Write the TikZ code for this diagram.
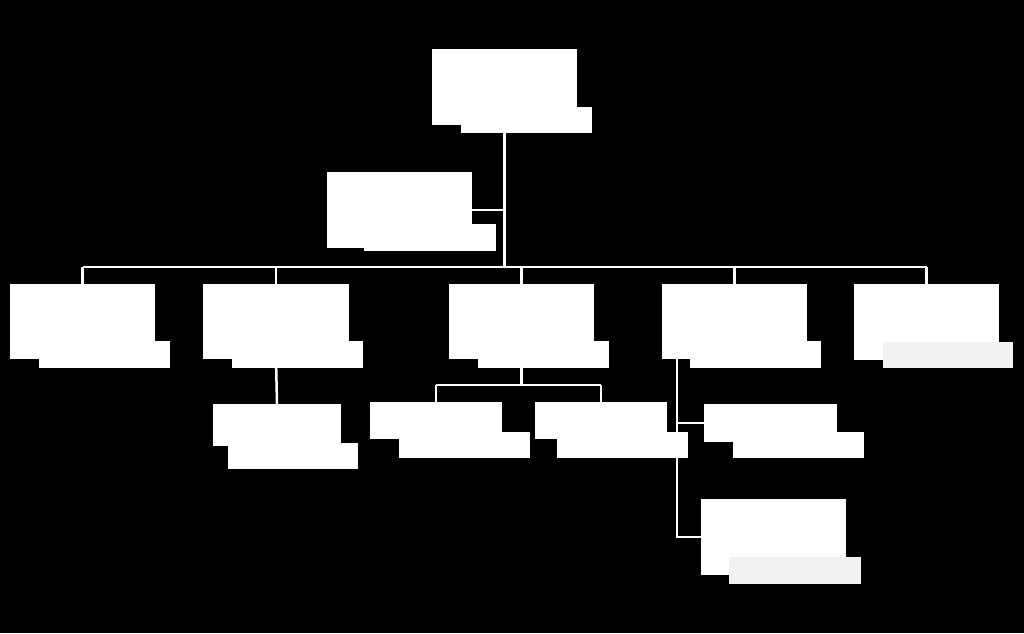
\documentclass[tikz,border=0pt]{standalone}
\begin{document}
\begin{tikzpicture}[x=1pt,y=-1pt,
  mainbox/.style={fill=white, inner sep=0pt, outer sep=0pt, anchor=north west, draw=none},
  tabbox/.style={fill=white, inner sep=0pt, outer sep=0pt, anchor=north west, draw=none},
  greytab/.style={tabbox, fill=black!5},
  conn/.style={draw=white, line width=2.5pt}]
\fill[black] (0,0) rectangle (1024,633);
\useasboundingbox (0,0) rectangle (1024,633);
% coordinates of bus lines
\coordinate (bus) at (504,267);
\coordinate (cbus) at (522,385);
\coordinate (dtrunk) at (677,359);
% main boxes
\node[mainbox, minimum width=145pt, minimum height=76pt] (top) at (432,49) {};
\node[mainbox, minimum width=145pt, minimum height=76pt] (asst) at (327,172) {};
\node[mainbox, minimum width=145pt, minimum height=75pt] (a) at (10,284) {};
\node[mainbox, minimum width=146pt, minimum height=75pt] (b) at (203,284) {};
\node[mainbox, minimum width=145pt, minimum height=75pt] (c) at (449,284) {};
\node[mainbox, minimum width=145pt, minimum height=75pt] (d) at (662,284) {};
\node[mainbox, minimum width=145pt, minimum height=76pt] (e) at (854,284) {};
\node[mainbox, minimum width=128pt, minimum height=42pt] (f) at (213,404) {};
\node[mainbox, minimum width=132pt, minimum height=37pt] (g) at (370,402) {};
\node[mainbox, minimum width=132pt, minimum height=37pt] (h) at (535,402) {};
\node[mainbox, minimum width=133pt, minimum height=38pt] (i) at (704,404) {};
\node[mainbox, minimum width=145pt, minimum height=76pt] (j) at (701,499) {};
% name tabs
\node[tabbox, minimum width=131pt, minimum height=26pt] (toptab) at (461,107) {};
\node[tabbox, minimum width=132pt, minimum height=27pt] (assttab) at (364,224) {};
\node[tabbox, minimum width=131pt, minimum height=27pt] (atab) at (39,341) {};
\node[tabbox, minimum width=131pt, minimum height=27pt] (btab) at (232,341) {};
\node[tabbox, minimum width=131pt, minimum height=27pt] (ctab) at (478,341) {};
\node[tabbox, minimum width=131pt, minimum height=27pt] (dtab) at (690,341) {};
\node[greytab, minimum width=130pt, minimum height=26pt] (etab) at (883,342) {};
\node[tabbox, minimum width=130pt, minimum height=26pt] (ftab) at (228,443) {};
\node[tabbox, minimum width=131pt, minimum height=26pt] (gtab) at (399,432) {};
\node[tabbox, minimum width=131pt, minimum height=26pt] (htab) at (557,432) {};
\node[tabbox, minimum width=131pt, minimum height=26pt] (itab) at (733,432) {};
\node[greytab, minimum width=132pt, minimum height=27pt] (jtab) at (729,557) {};
% connectors
\draw[conn] (top.south) -- (top.south |- bus);
\draw[conn] (asst.east) -- (asst.east -| bus);
\draw[conn] (a.north |- bus) -- (e.north |- bus);
\foreach \n in {a,b,c,d,e} \draw[conn] (\n.north) -- (\n.north |- bus);
\draw[conn] (b.south) -- (f.north);
\draw[conn] (c.south) -- (c.south |- cbus);
\draw[conn] (g.north |- cbus) -- (h.north |- cbus);
\draw[conn] (g.north |- cbus) -- (g.north);
\draw[conn] (h.north |- cbus) -- (h.north);
\draw[conn] (dtrunk) |- (i.west);
\draw[conn] (dtrunk) |- (j.west);
\end{tikzpicture}
\end{document}
